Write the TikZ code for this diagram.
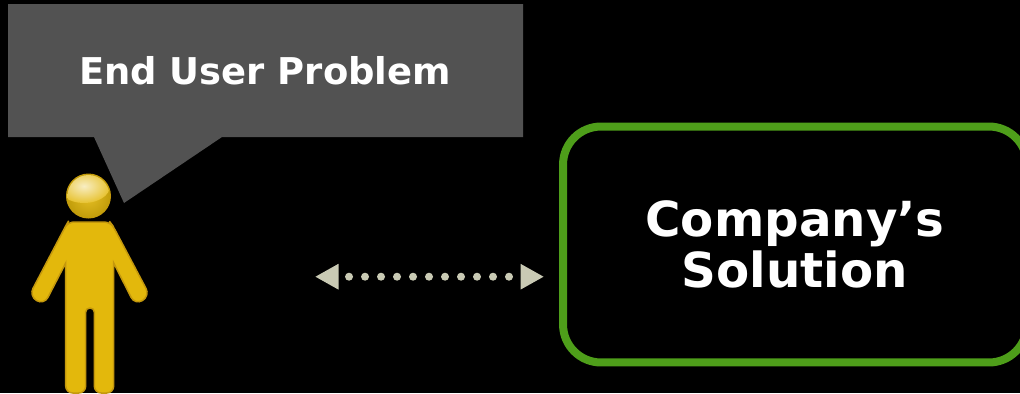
\documentclass[tikz,border=0pt]{standalone}
\usepackage{fontspec}
\setmainfont{DejaVu Sans}
\usetikzlibrary{arrows.meta}

\definecolor{bubblegray}{HTML}{525252}
\definecolor{boxgreen}{HTML}{4E9E1A}
\definecolor{linkgray}{HTML}{C9CAB4}
\definecolor{personyellow}{HTML}{E3B80C}
\definecolor{personedge}{HTML}{C4980C}

\tikzset{
    bubbletext/.style={text=white, font=\bfseries\fontsize{21}{25}\selectfont},
    solutionbox/.style={draw=boxgreen, line width=0.16cm, rounded corners=0.76cm, minimum width=9.28cm, minimum height=4.72cm, align=center, text=white, font=\bfseries\fontsize{27.5}{28.7}\selectfont},
    linkarrow/.style={draw=linkgray, line width=0.16cm, line cap=round, dash pattern=on 0pt off 0.32cm, dash phase=0.08cm, {Triangle[length=0.47cm,width=0.48cm,fill=linkgray]}-{Triangle[length=0.47cm,width=0.48cm,fill=linkgray]}},
}

\begin{document}
\begin{tikzpicture}[x=0.02cm,y=-0.02cm]
    % Page and its black ground
    \useasboundingbox (0,0) rectangle (1020,393);
    \fill[black] (0,0) rectangle (1020,393);

    % Speech bubble with its tail
    \fill[bubblegray] (8,4) -- (523,4) -- (523,137) -- (222,137) -- (124,203) -- (94,137) -- (8,137) -- cycle;
    \node[bubbletext] (problem) at (265,71) {End User Problem};

    % Person
    \draw[fill=personyellow, draw=personedge, line width=0.03cm]
        [rounded corners=0.12cm] (88,222) -- (68,222) -- (65.7,226)
        [rounded corners=0.17cm] -- (29,296) -- (44,305)
        [rounded corners=0pt] -- (65.7,263)
        [rounded corners=0.14cm] -- (65.7,393) -- (85.7,393)
        [rounded corners=0.08cm] -- (85.7,308) -- (94.3,308)
        [rounded corners=0.14cm] -- (94.3,393) -- (113.7,393)
        [rounded corners=0pt] -- (113.7,263)
        [rounded corners=0.17cm] -- (135,305) -- (150,296)
        [rounded corners=0.12cm] -- (113,226) -- (110,222) -- cycle;
    \fill[personedge] (88.5,196) circle (22.5);
    \shade[inner color=personyellow!90!white, outer color=personyellow!85!black] (88.5,196) circle (22);
    \begin{scope}
        \clip (88.5,196) circle (21);
        \shade[inner color=personyellow!25!white, outer color=personyellow!85!white] (84,186) ellipse (26 and 17);
    \end{scope}

    % Solution box
    \node[solutionbox] (solution) at (795,244.5) {Company’s\\Solution};

    % Link between the two
    \coordinate (linkleft) at (315,276.7);
    \coordinate (linkright) at (544,276.7);
    \draw[linkarrow] (linkleft) -- (linkright);
\end{tikzpicture}
\end{document}
